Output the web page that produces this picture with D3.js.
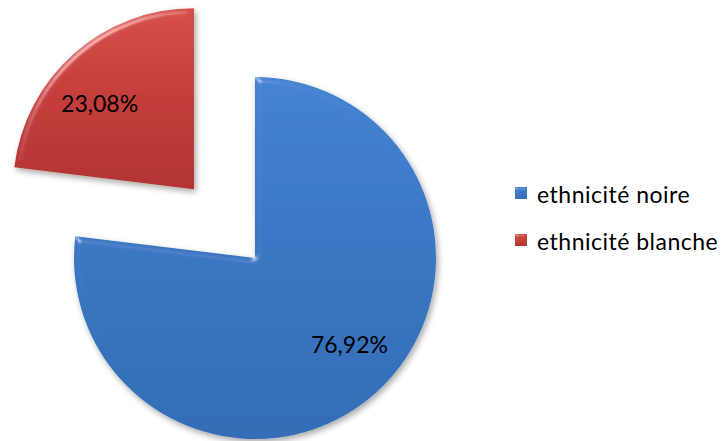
<!DOCTYPE html>
<html>
<head>
<meta charset="utf-8">
<script src="https://cdn.jsdelivr.net/npm/d3@7"></script>
<style>
  html, body { margin: 0; padding: 0; background: #fff; }
  svg { display: block; }
  text { font-family: Lato, "Open Sans", sans-serif; fill: #000; }
</style>
</head>
<body>
<svg id="chart" width="725" height="441"></svg>
<script>
// Share of each group, in percent
const categories = ["ethnicité noire", "ethnicité blanche"];
const values = [76.92, 23.08];
const valueLabels = ["76,92%", "23,08%"];
const colors = ["#3b77c4", "#c63f3c"];
const colorsLight = ["#4583d2", "#d5504c"];
const colorsDark = ["#346db6", "#b23433"];
// Slices pulled out of the pie
const exploded = [false, true];

const svg = d3.select("#chart");
const cx = 255, cy = 258, radius = 181;
const explodeDist = 92;

const defs = svg.append("defs");

// Bevel + soft shadow
const f = defs.append("filter").attr("id", "bevel")
  .attr("x", "-15%").attr("y", "-15%").attr("width", "130%").attr("height", "130%");
f.append("feGaussianBlur").attr("in", "SourceAlpha").attr("stdDeviation", 3).attr("result", "blur");
const spec = f.append("feSpecularLighting").attr("in", "blur")
  .attr("surfaceScale", 4).attr("specularConstant", 0.6).attr("specularExponent", 40)
  .attr("lighting-color", "#ffffff").attr("result", "spec");
spec.append("feDistantLight").attr("azimuth", 235).attr("elevation", 30);
f.append("feComposite").attr("in", "spec").attr("in2", "SourceAlpha").attr("operator", "in").attr("result", "specIn");
f.append("feComposite").attr("in", "SourceGraphic").attr("in2", "specIn")
  .attr("operator", "arithmetic").attr("k1", 0).attr("k2", 1).attr("k3", 0.6).attr("k4", 0).attr("result", "lit");
f.append("feOffset").attr("in", "blur").attr("dx", 2).attr("dy", 3).attr("result", "sh");
f.append("feComponentTransfer").attr("in", "sh").attr("result", "shadow")
  .append("feFuncA").attr("type", "linear").attr("slope", 0.35);
const merge = f.append("feMerge");
merge.append("feMergeNode").attr("in", "shadow");
merge.append("feMergeNode").attr("in", "lit");

// Smaller bevel for legend keys
const fk = defs.append("filter").attr("id", "keyBevel")
  .attr("x", "-30%").attr("y", "-30%").attr("width", "160%").attr("height", "160%");
fk.append("feGaussianBlur").attr("in", "SourceAlpha").attr("stdDeviation", 1).attr("result", "blur");
const speck = fk.append("feSpecularLighting").attr("in", "blur")
  .attr("surfaceScale", 2).attr("specularConstant", 0.6).attr("specularExponent", 30)
  .attr("lighting-color", "#ffffff").attr("result", "spec");
speck.append("feDistantLight").attr("azimuth", 235).attr("elevation", 30);
fk.append("feComposite").attr("in", "spec").attr("in2", "SourceAlpha").attr("operator", "in").attr("result", "specIn");
fk.append("feComposite").attr("in", "SourceGraphic").attr("in2", "specIn")
  .attr("operator", "arithmetic").attr("k1", 0).attr("k2", 1).attr("k3", 0.6).attr("k4", 0);

// Vertical shading per slice
colors.forEach((c, i) => {
  const g = defs.append("linearGradient").attr("id", "grad" + i)
    .attr("x1", 0).attr("y1", 0).attr("x2", 0).attr("y2", 1);
  g.append("stop").attr("offset", "0%").attr("stop-color", colorsLight[i]);
  g.append("stop").attr("offset", "45%").attr("stop-color", c);
  g.append("stop").attr("offset", "100%").attr("stop-color", colorsDark[i]);
});

const data = categories.map((c, i) => ({ name: c, value: values[i], label: valueLabels[i], i }));
const pie = d3.pie().value(d => d.value).sort(null);
const arcs = pie(data);
const arc = d3.arc().innerRadius(0).outerRadius(radius);

const labelR = 128;
const labelShift = -6 * Math.PI / 180;

const root = svg.append("g").attr("transform", `translate(${cx},${cy})`);

arcs.forEach(a => {
  const mid = (a.startAngle + a.endAngle) / 2;
  const dx = exploded[a.data.i] ? Math.sin(mid) * explodeDist : 0;
  const dy = exploded[a.data.i] ? -Math.cos(mid) * explodeDist : 0;
  const g = root.append("g").attr("transform", `translate(${dx},${dy})`);
  g.append("path")
    .attr("d", arc(a))
    .attr("fill", `url(#grad${a.data.i})`)
    .attr("filter", "url(#bevel)");
  const la = mid + labelShift;
  g.append("text")
    .attr("x", Math.sin(la) * labelR)
    .attr("y", -Math.cos(la) * labelR)
    .attr("text-anchor", "middle")
    .attr("dominant-baseline", "central")
    .attr("font-size", 23)
    .text(a.data.label);
});

// Legend
const legendX = 515, legendY = 193, legendStep = 47;
const legend = svg.append("g");
data.forEach((d, i) => {
  const y = legendY + i * legendStep;
  legend.append("rect")
    .attr("x", legendX).attr("y", y - 6).attr("width", 12).attr("height", 12)
    .attr("fill", `url(#grad${i})`)
    .attr("filter", "url(#keyBevel)");
  legend.append("text")
    .attr("x", legendX + 22).attr("y", y + 1)
    .attr("dominant-baseline", "central")
    .attr("font-size", 23)
    .attr("letter-spacing", 0.5)
    .text(d.name);
});
</script>
</body>
</html>
